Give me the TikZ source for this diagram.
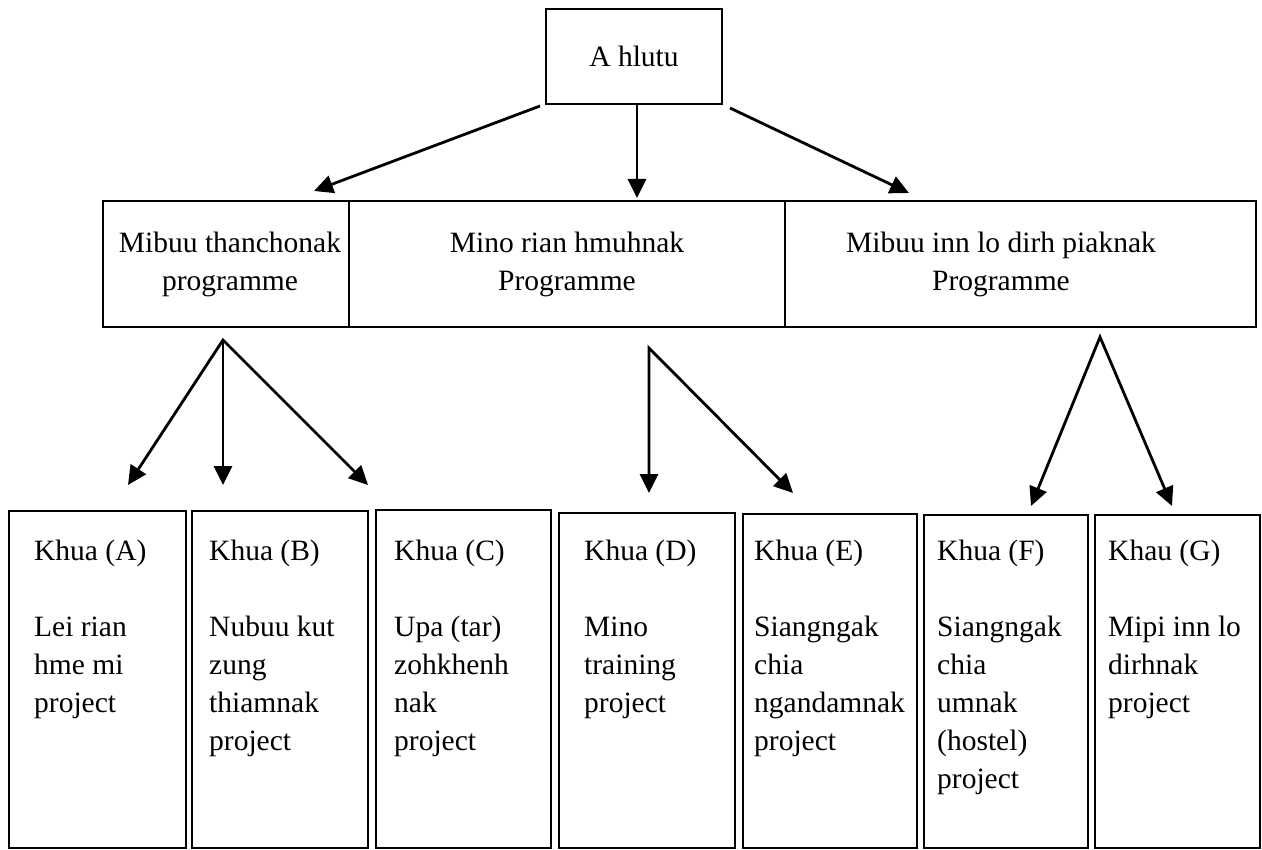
\documentclass[tikz,border=0pt]{standalone}
\usepackage{fontspec}
\setmainfont{Liberation Serif}
\usetikzlibrary{arrows.meta}
\newcommand\dgfont{\fontsize{29.5}{38}\selectfont}
\begin{document}
\begin{tikzpicture}[x=1pt,y=-1pt,
  boxline/.style={draw, line width=2.7pt, inner sep=0pt, outer sep=0pt},
  kbox/.style={boxline, anchor=north west},
  ktext/.style={anchor=north west, align=left, inner sep=0pt, font=\dgfont},
  ptext/.style={anchor=north, align=center, inner sep=0pt, font=\dgfont},
  arr/.style={line width=2.8pt, line join=miter, -{Triangle[length=19pt,width=18pt]}},
  arrs/.style={line width=2.8pt, line join=miter, {Triangle[length=19pt,width=18pt]}-{Triangle[length=19pt,width=18pt]}}]
\useasboundingbox (0,0) rectangle (1262,850);

% top box
\node[boxline, minimum width=176pt, minimum height=95pt, font=\dgfont] (top) at (634,56.5) {A hlutu};

% programme row
\node[kbox, minimum width=246pt, minimum height=126pt] (p1) at (103,201) {};
\node[kbox, minimum width=436pt, minimum height=126pt] (p2) at (349,201) {};
\node[kbox, minimum width=471pt, minimum height=126pt] (p3) at (785,201) {};
\node[ptext] (p1t) at (230,225.4) {\strut Mibuu thanchonak\\programme};
\node[ptext] (p2t) at (567,225.4) {\strut Mino rian hmuhnak\\Programme};
\node[ptext] (p3t) at (1001,225.4) {\strut Mibuu inn lo dirh piaknak\\Programme};

% project boxes
\node[kbox, minimum width=177pt, minimum height=337pt] (bA) at (9,511) {};
\node[kbox, minimum width=176pt, minimum height=337pt] (bB) at (192,511) {};
\node[kbox, minimum width=175pt, minimum height=338pt] (bC) at (376,510) {};
\node[kbox, minimum width=176pt, minimum height=335pt] (bD) at (559,513) {};
\node[kbox, minimum width=174pt, minimum height=334pt] (bE) at (743,514) {};
\node[kbox, minimum width=164pt, minimum height=333pt] (bF) at (924,515) {};
\node[kbox, minimum width=165pt, minimum height=333pt] (bG) at (1095,515) {};

\node[ktext] (tAx) at (34,533.4)  {\strut Khua (A)\\[38pt]Lei rian\\hme mi\\project};
\node[ktext] (tBx) at (209,533.4) {\strut Khua (B)\\[38pt]Nubuu kut\\zung\\thiamnak\\project};
\node[ktext] (tCx) at (394,533.4) {\strut Khua (C)\\[38pt]Upa (tar)\\zohkhenh\\nak\\project};
\node[ktext] (tDx) at (584,533.4) {\strut Khua (D)\\[38pt]Mino\\training\\project};
\node[ktext] (tEx) at (754,533.4) {\strut Khua (E)\\[38pt]Siangngak\\chia\\ngandamnak\\project};
\node[ktext] (tFx) at (937,533.4) {\strut Khua (F)\\[38pt]Siangngak\\chia\\umnak\\(hostel)\\project};
\node[ktext] (tGx) at (1108,533.4) {\strut Khau (G)\\[38pt]Mipi inn lo\\dirhnak\\project};

% connector ends
\coordinate (s1) at (540,106);  \coordinate (e1) at (314,191);
\coordinate (s2) at (637,104);  \coordinate (e2) at (637,198);
\coordinate (s3) at (730,108);  \coordinate (e3) at (909,193);
\coordinate (a1) at (223,340);
\coordinate (eA) at (128,485); \coordinate (eB) at (223,485); \coordinate (eC) at (368,485);
\coordinate (a2) at (649,348);
\coordinate (eD) at (649,493); \coordinate (eE) at (793,493);
\coordinate (a3) at (1100,337);
\coordinate (eF) at (1031,506); \coordinate (eG) at (1172,506);

\draw[arr] (s1) -- (e1);
\draw[arr] (s2) -- (e2);
\draw[arr] (s3) -- (e3);
\draw[arrs] (eA) -- (a1) -- (eC);
\draw[arr] (a1) -- (eB);
\draw[arrs] (eD) -- (a2) -- (eE);
\draw[arrs] (eF) -- (a3) -- (eG);
\end{tikzpicture}
\end{document}
